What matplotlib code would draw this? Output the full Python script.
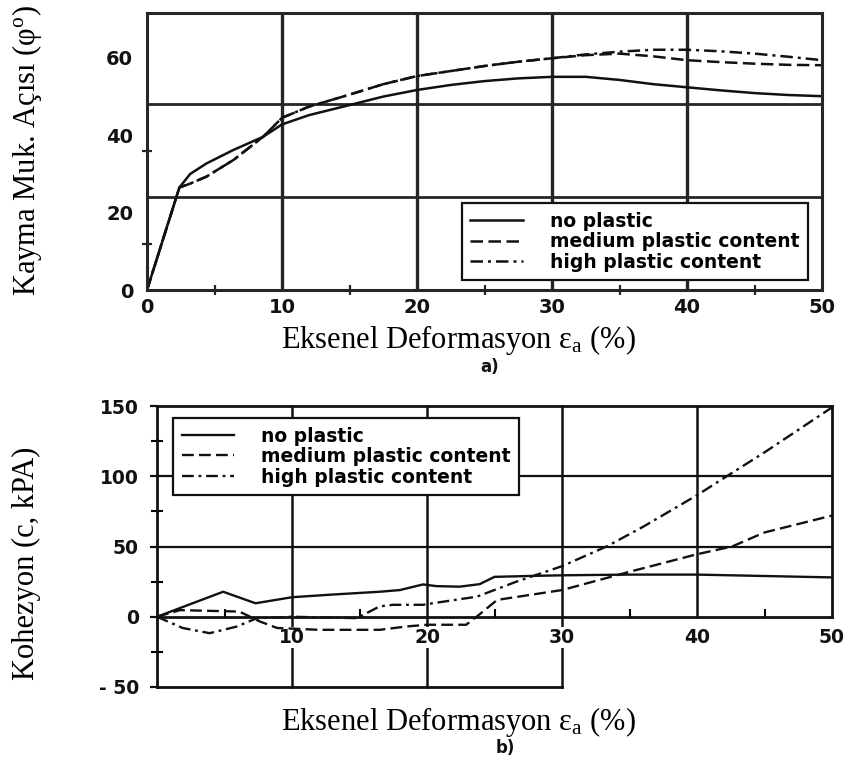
import matplotlib
matplotlib.use("Agg")
import matplotlib.pyplot as plt
from matplotlib.ticker import FixedLocator

plt.rcParams['font.family'] = ['DejaVu Sans']
plt.rcParams['mathtext.fontset'] = 'custom'
plt.rcParams['mathtext.rm'] = 'Liberation Serif'
plt.rcParams['mathtext.it'] = 'Liberation Serif:italic'
plt.rcParams['mathtext.bf'] = 'Liberation Serif:bold'

# ---------------- data ----------------
series_labels = ["no plastic", "medium plastic content", "high plastic content"]

# (a) friction angle vs axial strain
strain_a = [0, 2.4, 3.2, 4.4, 6.4, 8.6, 10, 12, 15, 17.5, 20, 22.5, 25,
            27.5, 30, 32.5, 35, 37.5, 40, 42.5, 45, 47.5, 50]
phi_no = [0, 26.5, 30.0, 32.7, 36.2, 39.6, 42.8, 45.2, 47.8, 50.0, 51.7, 53.0,
          54.0, 54.7, 55.1, 55.1, 54.3, 53.2, 52.4, 51.6, 50.9, 50.4, 50.1]
phi_medium = [0, 26.5, 27.5, 29.3, 33.6, 39.6, 44.5, 47.4, 50.5, 53.2, 55.3,
              56.6, 57.9, 59.0, 59.9, 60.7, 61.1, 60.4, 59.4, 58.9, 58.5,
              58.2, 58.1]
phi_high = [0, 26.5, 27.5, 29.3, 33.6, 39.6, 44.5, 47.4, 50.5, 53.2, 55.3,
            56.6, 57.9, 59.0, 59.9, 60.9, 61.6, 62.1, 62.1, 61.7, 61.1,
            60.3, 59.4]
x_ticks_a = [0, 10, 20, 30, 40, 50]
phi_ticks = [0, 20, 40, 60]

# (b) cohesion vs axial strain
strain_b_no = [0, 4.9, 7.3, 10, 13, 16.5, 18, 19.7, 20.7, 22.4, 23.9, 25,
               27.5, 30, 35, 40, 45, 50]
coh_no = [0, 17.8, 9.6, 13.9, 15.8, 17.8, 19.0, 23.0, 21.8, 21.4, 23.2, 28.4,
          29.0, 29.5, 30.0, 30.0, 29.0, 28.0]
strain_b_medium = [0, 1.7, 6.1, 7.6, 8.9, 12, 16.5, 18.5, 20, 22.9, 23.7,
                   25.2, 30, 35, 40, 42.6, 45, 50]
coh_medium = [0, 4.7, 3.7, -3.3, -8.0, -9.3, -9.3, -6.9, -5.7, -5.7, 0.2,
              12.0, 19.0, 32.0, 44.5, 50.0, 60.0, 72.0]
strain_b_high = [0, 1.9, 3.9, 5.9, 7.4, 10, 14.8, 16.5, 17.5, 19.7, 20.7,
                 23.7, 26.6, 30, 33.3, 36, 40, 42.2, 45, 50]
coh_high = [0, -8.0, -11.7, -7.0, -1.0, 0, -1.0, 7.4, 8.5, 8.5, 10.0, 14.3,
            24.9, 36.0, 50.0, 64.0, 86.5, 100.0, 117.0, 149.0]
x_ticks_b = [10, 20, 30, 40, 50]
coh_ticks = [-50, 0, 50, 100, 150]
coh_tick_labels = ['- 50', '0', '50', '100', '150']

# ---------------- styling ----------------
INK = '#111111'
GRID = '#262626'
SERIF = 'Liberation Serif'
dash_medium = (5, 2.2)
dash_high = (5, 2, 1.2, 2)
xlabel_text = "Eksenel Deformasyon $\\mathrm{ε}_{\\mathrm{a}}$ (%)"
legend_kw = dict(frameon=True, fancybox=False, edgecolor=INK, framealpha=1,
                 handlelength=2.8, handletextpad=1.45, labelspacing=0.08,
                 borderpad=0.45, borderaxespad=0,
                 prop=dict(family='DejaVu Sans', weight='bold', size=13.5))

fig = plt.figure(figsize=(8.64, 7.67), dpi=100)
fig.patch.set_facecolor('white')

# ================= (a) =================
ax1 = fig.add_axes([147 / 864, 1 - 290 / 767, 675 / 864, 277 / 767])
ax1.plot(strain_a, phi_no, color=INK, lw=1.8, label=series_labels[0])
ax1.plot(strain_a, phi_medium, color=INK, lw=1.8, dashes=dash_medium,
         label=series_labels[1])
ax1.plot(strain_a, phi_high, color=INK, lw=1.8, dashes=dash_high,
         label=series_labels[2])
ax1.set_xlim(0, 50)
ax1.set_ylim(0, 71.6)

for xv in (10, 20, 30, 40):
    ax1.axvline(xv, color=GRID, lw=2.4, zorder=1)
for yv in (24, 48):
    ax1.axhline(yv, color=GRID, lw=2.0, zorder=1)

ax1.set_xticks(x_ticks_a)
ax1.set_xticklabels([str(v) for v in x_ticks_a])
ax1.set_yticks(phi_ticks)
ax1.set_yticklabels([str(v) for v in phi_ticks])
ax1.xaxis.set_minor_locator(FixedLocator([5, 15, 25, 35, 45]))
ax1.yaxis.set_minor_locator(FixedLocator([12, 36, 60]))
ax1.tick_params(which='major', length=0, labelsize=14, colors=INK)
ax1.tick_params(axis='x', which='major', pad=6)
ax1.tick_params(axis='y', which='major', pad=10)
ax1.tick_params(which='minor', direction='inout', length=7, width=1.6,
                color=GRID)
for lbl in ax1.get_xticklabels() + ax1.get_yticklabels():
    lbl.set_fontweight('bold')
for sp in ax1.spines.values():
    sp.set_linewidth(2.2)
    sp.set_color(GRID)

leg1 = ax1.legend(loc='lower right', bbox_to_anchor=(0.979, 0.036),
                  **legend_kw)
leg1.get_frame().set_linewidth(1.6)

ax1.set_xlabel(xlabel_text, family=SERIF, size=22, va='center')
ax1.xaxis.set_label_coords(0.461, -0.18)
ax1.set_ylabel("Kayma Muk. Açısı ($\\mathrm{φ}^{\\mathrm{o}}$)", family=SERIF,
               size=22, va='center')
ax1.yaxis.set_label_coords(-0.178, 0.505)
fig.text(490 / 864, 1 - 367 / 767, 'a)', ha='center', va='center',
         weight='bold', size=12, color=INK)

# ================= (b) =================
ax2 = fig.add_axes([157 / 864, 1 - 687 / 767, 675 / 864, 281 / 767])
ax2.plot(strain_b_no, coh_no, color=INK, lw=1.7, label=series_labels[0])
ax2.plot(strain_b_medium, coh_medium, color=INK, lw=1.7, dashes=dash_medium,
         label=series_labels[1])
ax2.plot(strain_b_high, coh_high, color=INK, lw=1.7, dashes=dash_high,
         label=series_labels[2])
ax2.set_xlim(0, 50)
ax2.set_ylim(-50, 150)

ax2.spines['bottom'].set_position(('data', 0))
ax2.spines['right'].set_bounds(0, 150)
for sp in ax2.spines.values():
    sp.set_linewidth(2.0)
    sp.set_color(INK)
ax2.axhline(-50, xmin=0, xmax=0.6, color=INK, lw=2.0, clip_on=False)
for xv in (10, 20, 30):
    ax2.axvline(xv, color=INK, lw=1.8, zorder=1, clip_on=False)
ax2.axvline(40, ymin=0.25, ymax=1, color=INK, lw=1.8, zorder=1)
for yv in (50, 100):
    ax2.axhline(yv, color=INK, lw=1.6, zorder=1)

ax2.set_xticks(x_ticks_b)
ax2.set_xticklabels([str(v) for v in x_ticks_b])
ax2.set_yticks(coh_ticks)
ax2.set_yticklabels(coh_tick_labels)
ax2.xaxis.set_minor_locator(FixedLocator([5, 15, 25, 35, 45]))
ax2.yaxis.set_minor_locator(FixedLocator([-25, 25, 75, 125]))
ax2.tick_params(axis='x', which='major', length=0, pad=8, labelsize=13.5,
                colors=INK)
ax2.tick_params(axis='x', which='minor', direction='in', length=6, width=1.5)
ax2.tick_params(axis='y', which='major', direction='out', length=5, width=1.6,
                pad=8, labelsize=13.5, colors=INK)
ax2.tick_params(axis='y', which='minor', direction='inout', length=8,
                width=1.5)
for lbl in ax2.get_xticklabels() + ax2.get_yticklabels():
    lbl.set_fontweight('bold')
for lbl in ax2.get_xticklabels():
    lbl.set_bbox(dict(facecolor='white', edgecolor='none', pad=0.8))

leg2 = ax2.legend(loc='upper left', bbox_to_anchor=(0.024, 0.957),
                  **legend_kw)
leg2.get_frame().set_linewidth(1.6)

ax2.set_xlabel(xlabel_text, family=SERIF, size=22, va='center')
ax2.xaxis.set_label_coords(0.446, -0.125)
ax2.set_ylabel("Kohezyon (c, kPA)", family=SERIF, size=22, va='center')
ax2.yaxis.set_label_coords(-0.194, 0.441)
fig.text(505 / 864, 1 - 748 / 767, 'b)', ha='center', va='center',
         weight='bold', size=12, color=INK)

fig.savefig('out.png', dpi=100, facecolor='white')
